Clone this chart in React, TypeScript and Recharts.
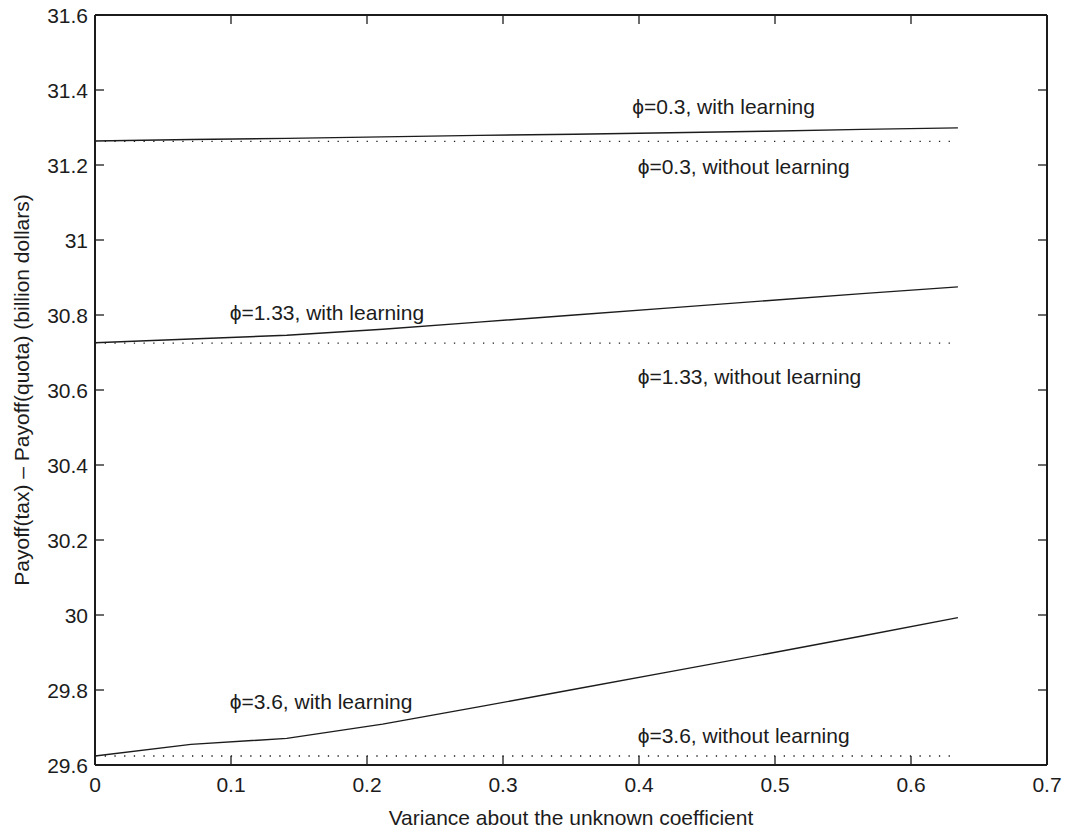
import { LineChart, Line, XAxis, YAxis, ReferenceDot } from 'recharts';

// variance values (x) shared by every curve
const variance = [0, 0.0705, 0.141, 0.2115, 0.282, 0.3525, 0.423, 0.4935, 0.564, 0.6345];

const phi03With = [31.264, 31.268, 31.271, 31.275, 31.279, 31.282, 31.286, 31.29, 31.295, 31.299];
const phi03Without = [31.263, 31.263, 31.263, 31.263, 31.263, 31.263, 31.263, 31.263, 31.263, 31.263];
const phi133With = [30.726, 30.736, 30.746, 30.762, 30.781, 30.8, 30.819, 30.838, 30.857, 30.875];
const phi133Without = [30.725, 30.725, 30.725, 30.725, 30.725, 30.725, 30.725, 30.725, 30.725, 30.725];
const phi36With = [29.624, 29.655, 29.671, 29.709, 29.755, 29.802, 29.849, 29.896, 29.944, 29.993];
const phi36Without = [29.624, 29.624, 29.624, 29.624, 29.624, 29.624, 29.624, 29.624, 29.624, 29.624];

const xTicks = [0, 0.1, 0.2, 0.3, 0.4, 0.5, 0.6, 0.7];
const yTicks = [29.6, 29.8, 30, 30.2, 30.4, 30.6, 30.8, 31, 31.2, 31.4, 31.6];

// curve annotations: text, left x, centre y (data units)
const notes = [
  { text: 'ϕ=0.3, with learning', x: 0.395, y: 31.355 },
  { text: 'ϕ=0.3, without learning', x: 0.399, y: 31.195 },
  { text: 'ϕ=1.33, with learning', x: 0.099, y: 30.808 },
  { text: 'ϕ=1.33, without learning', x: 0.399, y: 30.637 },
  { text: 'ϕ=3.6, with learning', x: 0.099, y: 29.769 },
  { text: 'ϕ=3.6, without learning', x: 0.399, y: 29.68 },
];

const data = variance.map((v, i) => ({
  v,
  w03: phi03With[i],
  wo03: phi03Without[i],
  w133: phi133With[i],
  wo133: phi133Without[i],
  w36: phi36With[i],
  wo36: phi36Without[i],
}));

const INK = '#1c1c1c';
const FS = 21;
const TICK = 9;

const fmt = (v: number) => String(Number(v.toFixed(2)));

const BottomTick = ({ x, y, payload }: any) => (
  <g>
    <line x1={x} x2={x} y1={y} y2={y - TICK} stroke={INK} strokeWidth={1.3} />
    <text x={x} y={y + 27} textAnchor="middle" fontSize={FS} fill={INK}>
      {fmt(payload.value)}
    </text>
  </g>
);

const TopTick = ({ x, y }: any) => (
  <line x1={x} x2={x} y1={y} y2={y + TICK} stroke={INK} strokeWidth={1.3} />
);

const LeftTick = ({ x, y, payload }: any) => (
  <g>
    <line x1={x} x2={x + TICK} y1={y} y2={y} stroke={INK} strokeWidth={1.3} />
    <text x={x - 7} y={y + 7.5} textAnchor="end" fontSize={FS} fill={INK}>
      {fmt(payload.value)}
    </text>
  </g>
);

const RightTick = ({ x, y }: any) => (
  <line x1={x} x2={x - TICK} y1={y} y2={y} stroke={INK} strokeWidth={1.3} />
);

const NoteLabel = (text: string) => (props: any) => {
  const { viewBox } = props;
  return (
    <text x={viewBox.x} y={viewBox.y + 7.5} fontSize={FS} fill={INK}>
      {text}
    </text>
  );
};

const YTitle = () => {
  const cy = 390;
  const cx = 29;
  return (
    <text x={cx} y={cy} fontSize={FS} fill={INK} textAnchor="middle" transform={`rotate(-90, ${cx}, ${cy})`}>
      Payoff(tax) – Payoff(quota) (billion dollars)
    </text>
  );
};

const XTitle = (props: any) => {
  const { viewBox } = props;
  return (
    <text x={viewBox.x + viewBox.width / 2} y={viewBox.y + 60} fontSize={FS} fill={INK} textAnchor="middle">
      Variance about the unknown coefficient
    </text>
  );
};

const axisLine = { stroke: INK, strokeWidth: 2 };
const dotted = { stroke: INK, strokeWidth: 1.3, strokeDasharray: '1.3 8.4' };

export default function App() {
  return (
    <div style={{ position: 'absolute', left: 0, top: 0, background: '#fff', fontFamily: '"Liberation Sans", Arial, sans-serif' }}>
      <LineChart width={1066} height={829} data={data} margin={{ top: 14, right: 18, bottom: 0, left: 0 }}>
        <XAxis
          dataKey="v"
          type="number"
          domain={[0, 0.7]}
          ticks={xTicks}
          interval={0}
          height={64}
          tickSize={0}
          tickMargin={0}
          tickLine={false}
          axisLine={axisLine}
          tick={<BottomTick />}
          label={{ content: XTitle }}
        />
        <XAxis
          xAxisId="top"
          orientation="top"
          dataKey="v"
          type="number"
          domain={[0, 0.7]}
          ticks={xTicks}
          interval={0}
          height={1}
          tickSize={0}
          tickMargin={0}
          tickLine={false}
          axisLine={axisLine}
          tick={<TopTick />}
        />
        <YAxis
          type="number"
          domain={[29.6, 31.6]}
          ticks={yTicks}
          interval={0}
          width={95}
          tickSize={0}
          tickMargin={0}
          tickLine={false}
          axisLine={axisLine}
          tick={<LeftTick />}
          label={{ content: YTitle }}
        />
        <YAxis
          yAxisId="right"
          orientation="right"
          type="number"
          domain={[29.6, 31.6]}
          ticks={yTicks}
          interval={0}
          width={1}
          tickSize={0}
          tickMargin={0}
          tickLine={false}
          axisLine={axisLine}
          tick={<RightTick />}
        />
        {/* dotted "without learning" lines use the mirrored frame axes (same scales) */}
        <Line xAxisId="top" yAxisId="right" dataKey="wo03" {...dotted} dot={false} isAnimationActive={false} />
        <Line xAxisId="top" yAxisId="right" dataKey="wo133" {...dotted} dot={false} isAnimationActive={false} />
        <Line xAxisId="top" yAxisId="right" dataKey="wo36" {...dotted} dot={false} isAnimationActive={false} />
        <Line dataKey="w03" stroke={INK} strokeWidth={1.4} dot={false} isAnimationActive={false} />
        <Line dataKey="w133" stroke={INK} strokeWidth={1.4} dot={false} isAnimationActive={false} />
        <Line dataKey="w36" stroke={INK} strokeWidth={1.4} dot={false} isAnimationActive={false} />
        {notes.map((n) => (
          <ReferenceDot key={n.text} x={n.x} y={n.y} r={0} fill="none" stroke="none" label={{ content: NoteLabel(n.text) }} />
        ))}
      </LineChart>
    </div>
  );
}
